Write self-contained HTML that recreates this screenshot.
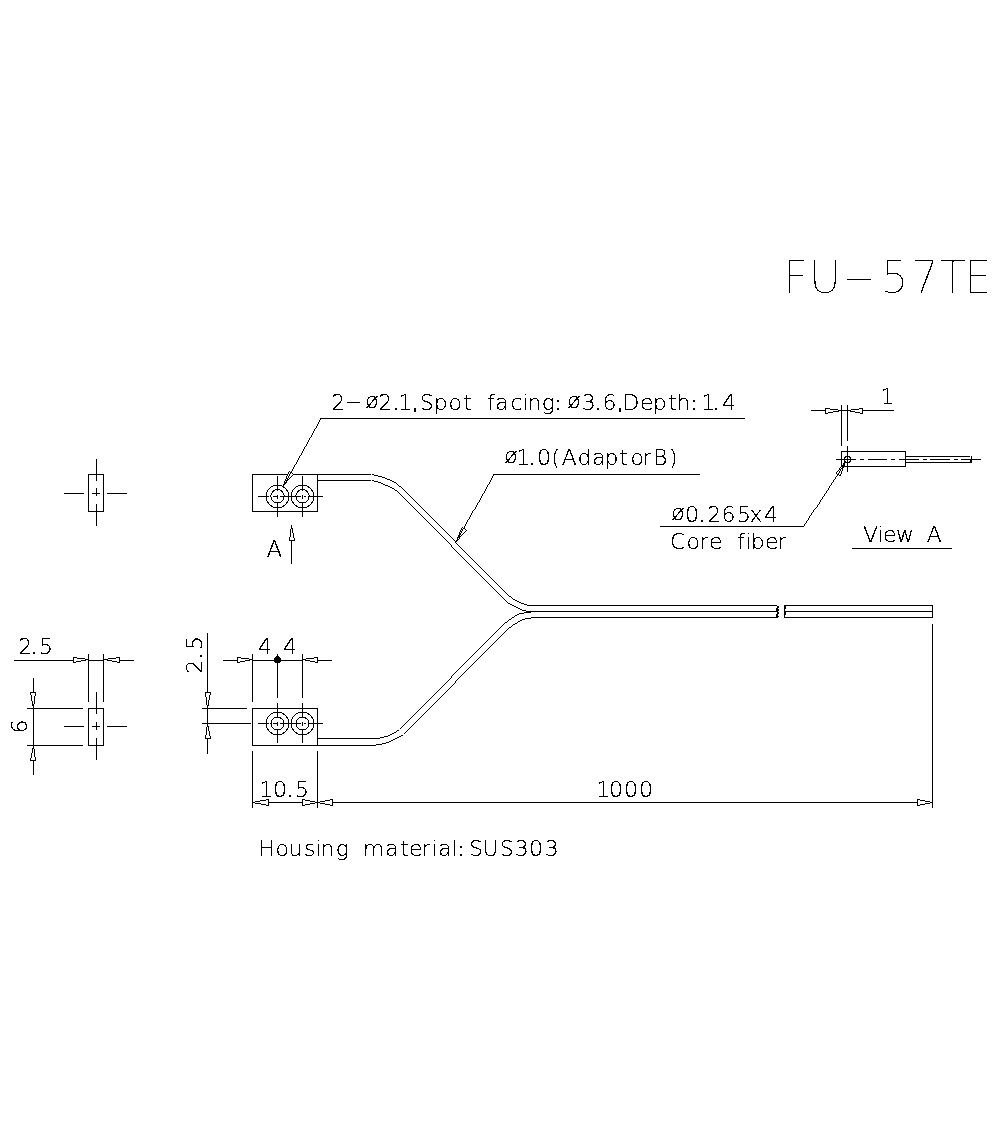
<!DOCTYPE html>
<html lang="en"><head><meta charset="utf-8"><title>FU-57TE</title>
<style>
html,body{margin:0;padding:0;background:#fff}
body{width:1000px;height:1122px;overflow:hidden}
svg{display:block}
rect{fill:#000;shape-rendering:crispEdges}
rect.w{fill:#fff}
.d{fill:none;stroke:#000;shape-rendering:crispEdges}
.a{fill:#fff;stroke:#000;stroke-width:.9;stroke-linejoin:miter;shape-rendering:crispEdges}
.t{font-family:"DejaVu Sans","Liberation Sans",sans-serif;font-weight:200;fill:#000;stroke:#000;stroke-width:0.25;white-space:pre}
.big{stroke:#fff;stroke-width:0.7}
.r{stroke-width:0.3}
.p{stroke-width:0.8}
</style></head><body>
<svg width="1000" height="1122" viewBox="0 0 1000 1122">
<defs><filter id="bw" filterUnits="userSpaceOnUse" x="0" y="0" width="1000" height="1122" color-interpolation-filters="sRGB">
<feFlood flood-color="#fff" result="w"/>
<feComposite in="SourceGraphic" in2="w" operator="over"/>
<feColorMatrix type="matrix" values="0 0 0 0 0  0 0 0 0 0  0 0 0 0 0  -1 0 0 0 1"/>
<feComponentTransfer><feFuncA type="discrete" tableValues="0 1"/></feComponentTransfer>
</filter></defs>
<g filter="url(#bw)">
<text class="t big" x="782.64 808.64 841.18 880.53 910.53 939.31 963.82" y="293 293 291 293 293 293 293" font-size="44.5">FU<tspan textLength="35.65" lengthAdjust="spacingAndGlyphs">-</tspan>57TE</text>
<rect x="88" y="474" width="16" height="1"/>
<rect x="88" y="511" width="16" height="1"/>
<rect x="88" y="474" width="1" height="38"/>
<rect x="103" y="474" width="1" height="38"/>
<rect x="96" y="459" width="1" height="22"/>
<rect x="96" y="488" width="1" height="8"/>
<rect x="96" y="504" width="1" height="22"/>
<rect x="64" y="493" width="20" height="1"/>
<rect x="92" y="493" width="8" height="1"/>
<rect x="107" y="493" width="20" height="1"/>
<rect x="252" y="474" width="66" height="1"/>
<rect x="252" y="511" width="66" height="1"/>
<rect x="252" y="474" width="1" height="38"/>
<rect x="317" y="474" width="1" height="38"/>
<circle class="d" cx="277.5" cy="496.5" r="11.3" stroke-width="1"/>
<circle class="d" cx="277.5" cy="496.3" r="6.7" stroke-width="1"/>
<circle class="d" cx="302.5" cy="496.5" r="11.3" stroke-width="1"/>
<circle class="d" cx="302.5" cy="496.3" r="6.7" stroke-width="1"/>
<rect x="258" y="496" width="11" height="1"/>
<rect x="270" y="496" width="1" height="1"/>
<rect x="273" y="496" width="4" height="1"/>
<rect x="280" y="496" width="21" height="1"/>
<rect x="304" y="496" width="2" height="1"/>
<rect x="308" y="496" width="15" height="1"/>
<rect x="277" y="476" width="1" height="15"/>
<rect x="277" y="495" width="1" height="4"/>
<rect x="277" y="502" width="1" height="15"/>
<rect x="302" y="476" width="1" height="15"/>
<rect x="302" y="495" width="1" height="4"/>
<rect x="302" y="502" width="1" height="15"/>
<rect x="318" y="474" width="53" height="1"/>
<rect x="318" y="480" width="53" height="1"/>
<rect x="372" y="474" width="2" height="1"/>
<rect x="374" y="475" width="4" height="1"/>
<rect x="378" y="476" width="4" height="1"/>
<rect x="382" y="477" width="3" height="1"/>
<rect x="385" y="478" width="2" height="1"/>
<rect x="387" y="479" width="3" height="1"/>
<rect x="390" y="480" width="2" height="1"/>
<rect x="392" y="481" width="2" height="1"/>
<rect x="394" y="482" width="2" height="1"/>
<line class="d" x1="396.2" y1="483.2" x2="399.8" y2="486.8" stroke-width="0.72"/>
<line class="d" x1="400.2" y1="486.2" x2="455.8" y2="541.8" stroke-width="0.72"/>
<rect x="455" y="542" width="1" height="1"/>
<line class="d" x1="456.2" y1="543.2" x2="508.8" y2="595.8" stroke-width="0.72"/>
<rect x="509" y="596" width="2" height="1"/>
<rect x="511" y="597" width="1" height="1"/>
<rect x="512" y="598" width="1" height="1"/>
<rect x="513" y="599" width="2" height="1"/>
<rect x="515" y="600" width="2" height="1"/>
<rect x="517" y="601" width="2" height="1"/>
<rect x="519" y="602" width="2" height="1"/>
<rect x="521" y="603" width="3" height="1"/>
<rect x="524" y="604" width="3" height="1"/>
<rect x="372" y="480" width="2" height="1"/>
<rect x="374" y="481" width="4" height="1"/>
<rect x="378" y="482" width="3" height="1"/>
<rect x="381" y="483" width="2" height="1"/>
<rect x="383" y="484" width="2" height="1"/>
<rect x="385" y="485" width="3" height="1"/>
<rect x="388" y="486" width="2" height="1"/>
<rect x="390" y="487" width="2" height="1"/>
<rect x="392" y="488" width="2" height="1"/>
<rect x="394" y="489" width="1" height="1"/>
<rect x="395" y="490" width="2" height="1"/>
<rect x="397" y="491" width="1" height="1"/>
<line class="d" x1="398.2" y1="492.2" x2="451.8" y2="545.8" stroke-width="0.72"/>
<rect x="451" y="546" width="1" height="1"/>
<line class="d" x1="452.2" y1="547.2" x2="507.8" y2="602.8" stroke-width="0.72"/>
<rect x="508" y="603" width="2" height="1"/>
<rect x="510" y="604" width="2" height="1"/>
<rect x="512" y="605" width="2" height="1"/>
<rect x="514" y="606" width="2" height="1"/>
<rect x="516" y="607" width="2" height="1"/>
<rect x="518" y="608" width="2" height="1"/>
<rect x="520" y="609" width="2" height="1"/>
<rect x="522" y="610" width="4" height="1"/>
<rect x="291" y="525" width="1" height="39"/>
<rect x="291" y="526" width="1" height="14" class="w"/>
<rect x="289" y="537" width="1" height="4"/>
<rect x="290" y="529" width="1" height="8"/>
<rect x="291" y="526" width="1" height="3"/>
<rect x="294" y="538" width="1" height="3"/>
<rect x="293" y="533" width="1" height="5"/>
<rect x="292" y="528" width="1" height="5"/>
<rect x="289" y="540" width="1" height="1"/>
<rect x="290" y="540" width="1" height="1"/>
<rect x="291" y="540" width="1" height="1"/>
<rect x="292" y="540" width="1" height="1"/>
<rect x="293" y="540" width="1" height="1"/>
<rect x="294" y="540" width="1" height="1"/>
<text class="t" x="266.55" y="557" font-size="23">A</text>
<rect x="320" y="418" width="425" height="1"/>
<polygon class="a" points="283.00,486.00 293.50,474.10 288.95,471.58"/>
<line class="d" x1="320.5" y1="418.5" x2="283" y2="486" stroke-width="0.892"/>
<text class="t" x="331.34 344.59 365.23 378.36 392.36 398.37 411.7 419.79 433.84 448.45 463.17 471.8 487.04 495.33 510.41 522.19 527.56 541.85 554.34 567.21 581.69 594.86 602.49 616.8 622.51 639.99 652.74 668.35 676.51 690.34 701.17 712.71 721.97" y="410 408 408 410 410 410 410 410 410 410 410 410 410 410 410 410 410 410 410 408 410 410 410 410 410 410 410 410 410 410 410 410 410" font-size="22">2<tspan textLength="17.82" lengthAdjust="spacingAndGlyphs">-</tspan>ø2<tspan class="p">.</tspan>1<tspan class="p">,</tspan>Spot facing<tspan class="p">:</tspan>ø3<tspan class="p">.</tspan>6<tspan class="p">,</tspan>Depth<tspan class="p">:</tspan>1<tspan class="p">.</tspan>4</text>
<rect x="493" y="474" width="207" height="1"/>
<polygon class="a" points="456.00,542.00 466.50,530.10 461.95,527.58"/>
<line class="d" x1="493.5" y1="474.5" x2="456" y2="542" stroke-width="0.892"/>
<text class="t" x="504.36 516.32 528.46 537.01 551.36 561.86 577.62 592.13 604.39 619.55 630.38 642.13 652.92 669.11" y="463 465 465 465 465 465 465 465 465 465 465 465 465 465" font-size="22">ø1<tspan class="p">.</tspan>0(AdaptorB)</text>
<rect x="811" y="410" width="83" height="1"/>
<rect x="841" y="405" width="1" height="41"/>
<rect x="847" y="405" width="1" height="36"/>
<rect x="826" y="410" width="15" height="1" class="w"/>
<rect x="825" y="408" width="5" height="1"/>
<rect x="830" y="409" width="8" height="1"/>
<rect x="838" y="410" width="3" height="1"/>
<rect x="825" y="413" width="3" height="1"/>
<rect x="828" y="412" width="5" height="1"/>
<rect x="833" y="411" width="6" height="1"/>
<rect x="825" y="408" width="1" height="1"/>
<rect x="825" y="409" width="1" height="1"/>
<rect x="825" y="410" width="1" height="1"/>
<rect x="825" y="411" width="1" height="1"/>
<rect x="825" y="412" width="1" height="1"/>
<rect x="825" y="413" width="1" height="1"/>
<rect x="848" y="410" width="14" height="1" class="w"/>
<rect x="859" y="408" width="4" height="1"/>
<rect x="851" y="409" width="8" height="1"/>
<rect x="848" y="410" width="3" height="1"/>
<rect x="860" y="413" width="3" height="1"/>
<rect x="855" y="412" width="5" height="1"/>
<rect x="850" y="411" width="5" height="1"/>
<rect x="862" y="408" width="1" height="1"/>
<rect x="862" y="409" width="1" height="1"/>
<rect x="862" y="410" width="1" height="1"/>
<rect x="862" y="411" width="1" height="1"/>
<rect x="862" y="412" width="1" height="1"/>
<rect x="862" y="413" width="1" height="1"/>
<text class="t" x="880.76" y="404" font-size="21">1</text>
<rect x="841" y="451" width="65" height="1"/>
<rect x="841" y="466" width="65" height="1"/>
<rect x="841" y="451" width="1" height="16"/>
<rect x="905" y="451" width="1" height="16"/>
<rect x="906" y="456" width="64" height="1"/>
<rect x="906" y="462" width="66" height="1"/>
<rect x="971" y="456" width="1" height="7"/>
<rect x="970" y="460" width="1" height="2"/>
<rect x="836" y="459" width="20" height="1"/>
<rect x="860" y="459" width="4" height="1"/>
<rect x="868" y="459" width="19" height="1"/>
<rect x="891" y="459" width="4" height="1"/>
<rect x="899" y="459" width="20" height="1"/>
<rect x="923" y="459" width="4" height="1"/>
<rect x="930" y="459" width="20" height="1"/>
<rect x="954" y="459" width="4" height="1"/>
<rect x="961" y="459" width="20" height="1"/>
<rect x="847" y="446" width="1" height="26"/>
<circle class="d" cx="847.5" cy="459.5" r="3.1" stroke-width="1"/>
<rect x="660" y="526" width="144" height="1"/>
<polygon class="a" points="845.70,461.30 835.91,473.30 840.10,476.02"/>
<line class="d" x1="803.5" y1="526.5" x2="845.5" y2="461.5" stroke-width="0.857"/>
<text class="t" x="671.31 685.09 698.71 707.36 721.46 736.89 749.59 763.95" y="520 522 522 522 522 522 522 522" font-size="22">ø0<tspan class="p">.</tspan>265x4</text>
<text class="t" x="670.08 686.45 699.16 708.99 722.53 737.09 745.59 750.64 765.07 777.31" y="549" font-size="22">Core fiber</text>
<text class="t" x="862.96 877.59 883.07 895.92 913.91 926.76" y="542" font-size="22">View A</text>
<rect x="852" y="548" width="100" height="1"/>
<rect x="527" y="605" width="250" height="1"/>
<rect x="526" y="611" width="252" height="1"/>
<rect x="531" y="617" width="247" height="1"/>
<rect x="784" y="605" width="149" height="1"/>
<rect x="784" y="611" width="149" height="1"/>
<rect x="784" y="617" width="149" height="1"/>
<rect x="932" y="605" width="1" height="13"/>
<rect x="784" y="605" width="1" height="13"/>
<rect x="785" y="606" width="1" height="3"/>
<rect x="785" y="612" width="1" height="3"/>
<rect x="777" y="606" width="2" height="1"/>
<rect x="777" y="607" width="2" height="1"/>
<rect x="776" y="608" width="2" height="1"/>
<rect x="776" y="609" width="3" height="1"/>
<rect x="776" y="610" width="3" height="1"/>
<rect x="777" y="612" width="2" height="1"/>
<rect x="777" y="613" width="2" height="1"/>
<rect x="776" y="614" width="2" height="1"/>
<rect x="776" y="615" width="2" height="1"/>
<rect x="776" y="616" width="3" height="1"/>
<rect x="524" y="612" width="7" height="1"/>
<rect x="519" y="613" width="5" height="1"/>
<rect x="517" y="614" width="2" height="1"/>
<rect x="515" y="615" width="2" height="1"/>
<rect x="514" y="616" width="1" height="1"/>
<rect x="512" y="617" width="2" height="1"/>
<rect x="511" y="618" width="1" height="1"/>
<rect x="509" y="619" width="2" height="1"/>
<rect x="508" y="620" width="1" height="1"/>
<rect x="507" y="621" width="1" height="1"/>
<rect x="505" y="622" width="2" height="1"/>
<line class="d" x1="504.8" y1="623.2" x2="452.2" y2="675.8" stroke-width="0.72"/>
<rect x="451" y="676" width="1" height="1"/>
<line class="d" x1="451.8" y1="677.2" x2="400.2" y2="728.8" stroke-width="0.72"/>
<rect x="397" y="730" width="2" height="1"/>
<rect x="396" y="731" width="1" height="1"/>
<rect x="394" y="732" width="2" height="1"/>
<rect x="392" y="733" width="2" height="1"/>
<rect x="390" y="734" width="2" height="1"/>
<rect x="388" y="735" width="2" height="1"/>
<rect x="384" y="736" width="4" height="1"/>
<rect x="380" y="737" width="4" height="1"/>
<rect x="525" y="618" width="6" height="1"/>
<rect x="522" y="619" width="3" height="1"/>
<rect x="520" y="620" width="2" height="1"/>
<rect x="518" y="621" width="2" height="1"/>
<rect x="517" y="622" width="1" height="1"/>
<rect x="515" y="623" width="2" height="1"/>
<rect x="513" y="624" width="2" height="1"/>
<rect x="512" y="625" width="1" height="1"/>
<rect x="511" y="626" width="1" height="1"/>
<rect x="509" y="627" width="2" height="1"/>
<line class="d" x1="508.8" y1="628.2" x2="456.2" y2="680.8" stroke-width="0.72"/>
<rect x="455" y="681" width="1" height="1"/>
<line class="d" x1="455.8" y1="682.2" x2="404.2" y2="733.8" stroke-width="0.72"/>
<rect x="401" y="735" width="2" height="1"/>
<rect x="399" y="736" width="2" height="1"/>
<rect x="397" y="737" width="2" height="1"/>
<rect x="395" y="738" width="2" height="1"/>
<rect x="393" y="739" width="2" height="1"/>
<rect x="391" y="740" width="2" height="1"/>
<rect x="389" y="741" width="2" height="1"/>
<rect x="386" y="742" width="3" height="1"/>
<rect x="382" y="743" width="4" height="1"/>
<rect x="376" y="744" width="6" height="1"/>
<rect x="318" y="738" width="62" height="1"/>
<rect x="318" y="745" width="58" height="1"/>
<rect x="88" y="708" width="16" height="1"/>
<rect x="88" y="745" width="16" height="1"/>
<rect x="88" y="708" width="1" height="38"/>
<rect x="103" y="708" width="1" height="38"/>
<rect x="96" y="692" width="1" height="22"/>
<rect x="96" y="722" width="1" height="8"/>
<rect x="96" y="738" width="1" height="22"/>
<rect x="64" y="726" width="20" height="1"/>
<rect x="92" y="726" width="8" height="1"/>
<rect x="107" y="726" width="20" height="1"/>
<rect x="14" y="660" width="120" height="1"/>
<rect x="88" y="654" width="1" height="48"/>
<rect x="103" y="654" width="1" height="48"/>
<rect x="74" y="660" width="14" height="1" class="w"/>
<rect x="73" y="657" width="4" height="1"/>
<rect x="77" y="658" width="8" height="1"/>
<rect x="85" y="659" width="3" height="1"/>
<rect x="73" y="662" width="3" height="1"/>
<rect x="76" y="661" width="5" height="1"/>
<rect x="81" y="660" width="5" height="1"/>
<rect x="73" y="657" width="1" height="1"/>
<rect x="73" y="658" width="1" height="1"/>
<rect x="73" y="659" width="1" height="1"/>
<rect x="73" y="660" width="1" height="1"/>
<rect x="73" y="661" width="1" height="1"/>
<rect x="73" y="662" width="1" height="1"/>
<rect x="104" y="660" width="15" height="1" class="w"/>
<rect x="116" y="657" width="4" height="1"/>
<rect x="108" y="658" width="8" height="1"/>
<rect x="104" y="659" width="4" height="1"/>
<rect x="107" y="660" width="5" height="1"/>
<rect x="112" y="661" width="5" height="1"/>
<rect x="117" y="662" width="3" height="1"/>
<rect x="119" y="657" width="1" height="1"/>
<rect x="119" y="658" width="1" height="1"/>
<rect x="119" y="659" width="1" height="1"/>
<rect x="119" y="660" width="1" height="1"/>
<rect x="119" y="661" width="1" height="1"/>
<rect x="119" y="662" width="1" height="1"/>
<text class="t" x="18.16 30.36 39.07" y="654" font-size="22">2<tspan class="p">.</tspan>5</text>
<rect x="33" y="678" width="1" height="97"/>
<rect x="27" y="708" width="56" height="1"/>
<rect x="27" y="745" width="56" height="1"/>
<rect x="33" y="693" width="1" height="15" class="w"/>
<rect x="30" y="692" width="1" height="3"/>
<rect x="31" y="695" width="1" height="6"/>
<rect x="32" y="701" width="1" height="5"/>
<rect x="35" y="692" width="1" height="4"/>
<rect x="34" y="696" width="1" height="8"/>
<rect x="33" y="704" width="1" height="4"/>
<rect x="30" y="692" width="1" height="1"/>
<rect x="31" y="692" width="1" height="1"/>
<rect x="32" y="692" width="1" height="1"/>
<rect x="33" y="692" width="1" height="1"/>
<rect x="34" y="692" width="1" height="1"/>
<rect x="35" y="692" width="1" height="1"/>
<rect x="33" y="746" width="1" height="14" class="w"/>
<rect x="35" y="757" width="1" height="4"/>
<rect x="34" y="749" width="1" height="8"/>
<rect x="33" y="746" width="1" height="3"/>
<rect x="30" y="758" width="1" height="3"/>
<rect x="31" y="753" width="1" height="5"/>
<rect x="32" y="748" width="1" height="5"/>
<rect x="30" y="760" width="1" height="1"/>
<rect x="31" y="760" width="1" height="1"/>
<rect x="32" y="760" width="1" height="1"/>
<rect x="33" y="760" width="1" height="1"/>
<rect x="34" y="760" width="1" height="1"/>
<rect x="35" y="760" width="1" height="1"/>
<text class="t r" x="-1.59" y="0" font-size="22" transform="translate(27 732) rotate(-90)">6</text>
<rect x="252" y="708" width="66" height="1"/>
<rect x="252" y="745" width="66" height="1"/>
<rect x="252" y="708" width="1" height="38"/>
<rect x="317" y="708" width="1" height="38"/>
<circle class="d" cx="277.5" cy="723.5" r="11.3" stroke-width="1"/>
<circle class="d" cx="277.5" cy="723.6" r="6.5" stroke-width="1"/>
<circle class="d" cx="302.5" cy="723.5" r="11.3" stroke-width="1"/>
<circle class="d" cx="302.5" cy="723.6" r="6.5" stroke-width="1"/>
<rect x="258" y="723" width="11" height="1"/>
<rect x="270" y="723" width="1" height="1"/>
<rect x="273" y="723" width="4" height="1"/>
<rect x="280" y="723" width="21" height="1"/>
<rect x="304" y="723" width="2" height="1"/>
<rect x="308" y="723" width="15" height="1"/>
<rect x="277" y="703" width="1" height="15"/>
<rect x="277" y="722" width="1" height="4"/>
<rect x="277" y="729" width="1" height="14"/>
<rect x="302" y="703" width="1" height="15"/>
<rect x="302" y="722" width="1" height="4"/>
<rect x="302" y="729" width="1" height="14"/>
<rect x="223" y="660" width="109" height="1"/>
<rect x="252" y="654" width="1" height="48"/>
<rect x="277" y="654" width="1" height="44"/>
<rect x="302" y="654" width="1" height="44"/>
<rect x="238" y="660" width="14" height="1" class="w"/>
<rect x="237" y="657" width="4" height="1"/>
<rect x="241" y="658" width="8" height="1"/>
<rect x="249" y="659" width="3" height="1"/>
<rect x="237" y="662" width="3" height="1"/>
<rect x="240" y="661" width="5" height="1"/>
<rect x="245" y="660" width="5" height="1"/>
<rect x="237" y="657" width="1" height="1"/>
<rect x="237" y="658" width="1" height="1"/>
<rect x="237" y="659" width="1" height="1"/>
<rect x="237" y="660" width="1" height="1"/>
<rect x="237" y="661" width="1" height="1"/>
<rect x="237" y="662" width="1" height="1"/>
<rect x="303" y="660" width="14" height="1" class="w"/>
<rect x="314" y="657" width="4" height="1"/>
<rect x="306" y="658" width="8" height="1"/>
<rect x="303" y="659" width="3" height="1"/>
<rect x="315" y="662" width="3" height="1"/>
<rect x="310" y="661" width="5" height="1"/>
<rect x="305" y="660" width="5" height="1"/>
<rect x="317" y="657" width="1" height="1"/>
<rect x="317" y="658" width="1" height="1"/>
<rect x="317" y="659" width="1" height="1"/>
<rect x="317" y="660" width="1" height="1"/>
<rect x="317" y="661" width="1" height="1"/>
<rect x="317" y="662" width="1" height="1"/>
<circle cx="277.5" cy="659.6" r="3.5" fill="#000" shape-rendering="crispEdges"/>
<text class="t" x="257.97" y="654" font-size="22">4</text>
<text class="t" x="282.97" y="654" font-size="22">4</text>
<rect x="207" y="633" width="1" height="121"/>
<rect x="202" y="708" width="45" height="1"/>
<rect x="202" y="723" width="49" height="1"/>
<rect x="207" y="693" width="1" height="15" class="w"/>
<rect x="205" y="692" width="1" height="5"/>
<rect x="206" y="697" width="1" height="8"/>
<rect x="207" y="705" width="1" height="3"/>
<rect x="210" y="692" width="1" height="3"/>
<rect x="209" y="695" width="1" height="5"/>
<rect x="208" y="700" width="1" height="6"/>
<rect x="205" y="692" width="1" height="1"/>
<rect x="206" y="692" width="1" height="1"/>
<rect x="207" y="692" width="1" height="1"/>
<rect x="208" y="692" width="1" height="1"/>
<rect x="209" y="692" width="1" height="1"/>
<rect x="210" y="692" width="1" height="1"/>
<rect x="207" y="724" width="1" height="14" class="w"/>
<rect x="205" y="735" width="1" height="4"/>
<rect x="206" y="727" width="1" height="8"/>
<rect x="207" y="724" width="1" height="3"/>
<rect x="210" y="736" width="1" height="3"/>
<rect x="209" y="731" width="1" height="5"/>
<rect x="208" y="726" width="1" height="5"/>
<rect x="205" y="738" width="1" height="1"/>
<rect x="206" y="738" width="1" height="1"/>
<rect x="207" y="738" width="1" height="1"/>
<rect x="208" y="738" width="1" height="1"/>
<rect x="209" y="738" width="1" height="1"/>
<rect x="210" y="738" width="1" height="1"/>
<text class="t r" x="-1.66 12.76 21.99" y="0" font-size="22" transform="translate(202 672) rotate(-90)">2<tspan class="p">.</tspan>5</text>
<rect x="252" y="751" width="1" height="57"/>
<rect x="317" y="751" width="1" height="57"/>
<rect x="932" y="624" width="1" height="184"/>
<rect x="252" y="802" width="681" height="1"/>
<rect x="253" y="802" width="15" height="1" class="w"/>
<rect x="266" y="799" width="3" height="1"/>
<rect x="260" y="800" width="6" height="1"/>
<rect x="255" y="801" width="5" height="1"/>
<rect x="253" y="802" width="2" height="1"/>
<rect x="255" y="803" width="6" height="1"/>
<rect x="261" y="804" width="5" height="1"/>
<rect x="266" y="805" width="3" height="1"/>
<rect x="268" y="799" width="1" height="1"/>
<rect x="268" y="800" width="1" height="1"/>
<rect x="268" y="801" width="1" height="1"/>
<rect x="268" y="802" width="1" height="1"/>
<rect x="268" y="803" width="1" height="1"/>
<rect x="268" y="804" width="1" height="1"/>
<rect x="268" y="805" width="1" height="1"/>
<rect x="303" y="802" width="14" height="1" class="w"/>
<rect x="302" y="799" width="3" height="1"/>
<rect x="305" y="800" width="5" height="1"/>
<rect x="310" y="801" width="5" height="1"/>
<rect x="315" y="802" width="2" height="1"/>
<rect x="310" y="803" width="5" height="1"/>
<rect x="305" y="804" width="5" height="1"/>
<rect x="302" y="805" width="3" height="1"/>
<rect x="302" y="799" width="1" height="1"/>
<rect x="302" y="800" width="1" height="1"/>
<rect x="302" y="801" width="1" height="1"/>
<rect x="302" y="802" width="1" height="1"/>
<rect x="302" y="803" width="1" height="1"/>
<rect x="302" y="804" width="1" height="1"/>
<rect x="302" y="805" width="1" height="1"/>
<rect x="318" y="802" width="14" height="1" class="w"/>
<rect x="330" y="799" width="3" height="1"/>
<rect x="325" y="800" width="5" height="1"/>
<rect x="320" y="801" width="5" height="1"/>
<rect x="318" y="802" width="2" height="1"/>
<rect x="320" y="803" width="5" height="1"/>
<rect x="325" y="804" width="5" height="1"/>
<rect x="330" y="805" width="3" height="1"/>
<rect x="332" y="799" width="1" height="1"/>
<rect x="332" y="800" width="1" height="1"/>
<rect x="332" y="801" width="1" height="1"/>
<rect x="332" y="802" width="1" height="1"/>
<rect x="332" y="803" width="1" height="1"/>
<rect x="332" y="804" width="1" height="1"/>
<rect x="332" y="805" width="1" height="1"/>
<rect x="918" y="802" width="14" height="1" class="w"/>
<rect x="917" y="799" width="3" height="1"/>
<rect x="920" y="800" width="5" height="1"/>
<rect x="925" y="801" width="5" height="1"/>
<rect x="930" y="802" width="2" height="1"/>
<rect x="925" y="803" width="5" height="1"/>
<rect x="920" y="804" width="5" height="1"/>
<rect x="917" y="805" width="3" height="1"/>
<rect x="917" y="799" width="1" height="1"/>
<rect x="917" y="800" width="1" height="1"/>
<rect x="917" y="801" width="1" height="1"/>
<rect x="917" y="802" width="1" height="1"/>
<rect x="917" y="803" width="1" height="1"/>
<rect x="917" y="804" width="1" height="1"/>
<rect x="917" y="805" width="1" height="1"/>
<text class="t" x="259.37 272.96 286.61 295.12" y="797" font-size="22">10<tspan class="p">.</tspan>5</text>
<text class="t" x="596.37 609.09 624.04 638.89" y="797" font-size="22">1000</text>
<text class="t" x="258.16 275.48 288.57 304.03 315.54 320.56 335.65 348.85 362.73 385.25 400.35 409.09 421.13 431.69 438.13 451.66 456.92 468.94 482.6 499.79 514.84 529.04 544.67" y="856" font-size="22">Housing material<tspan class="p">:</tspan>SUS303</text>
</g>
</svg>
</body></html>
